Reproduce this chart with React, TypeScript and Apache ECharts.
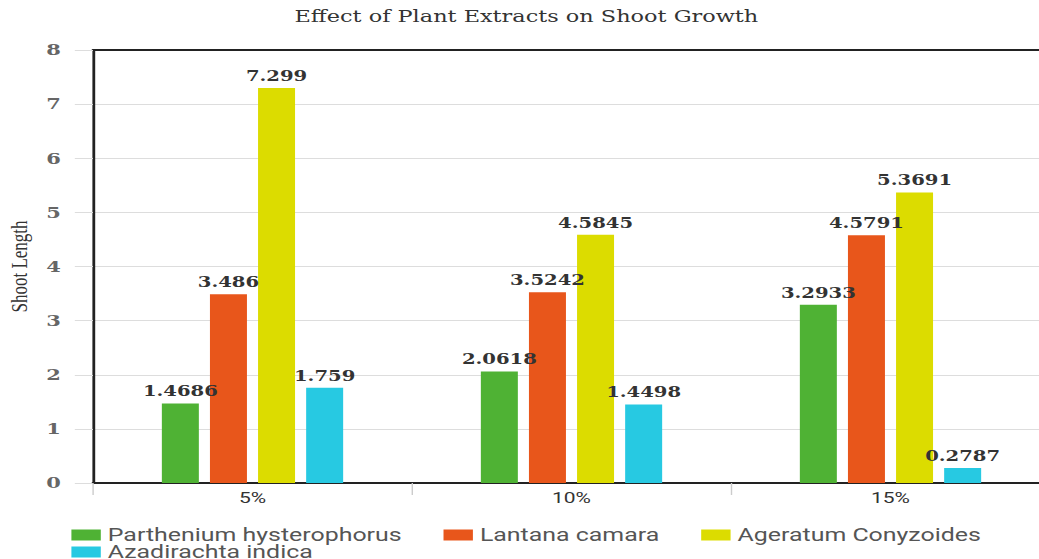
import React, { useEffect, useRef } from "react";
import * as echarts from "echarts";

const categories = ["5%", "10%", "15%"];
const seriesNames = [
  "Parthenium hysterophorus",
  "Lantana camara",
  "Ageratum Conyzoides",
  "Azadirachta indica",
];
const partheniumValues = [1.4686, 2.0618, 3.2933];
const lantanaValues = [3.486, 3.5242, 4.5791];
const ageratumValues = [7.299, 4.5845, 5.3691];
const azadirachtaValues = [1.759, 1.4498, 0.2787];
const yTicks = [0, 1, 2, 3, 4, 5, 6, 7, 8];
const colors = ["#4fb234", "#e8561b", "#dcdc00", "#27c9e2"];

const STRETCH = 1.4;
const W = 1039;
const H = 559;
const IW = 1070 / STRETCH;

export default function App() {
  const ref = useRef<HTMLDivElement>(null);
  useEffect(() => {
    if (!ref.current) return;
    const chart = echarts.init(ref.current, undefined, { renderer: "svg" });
    const values = [partheniumValues, lantanaValues, ageratumValues, azadirachtaValues];
    const labelFont = {
      fontFamily: "DejaVu Serif",
      fontWeight: "bold" as const,
      fontSize: 14,
      color: "#333",
    };
    chart.setOption({
      animation: false,
      backgroundColor: "#fff",
      title: {
        text: "Effect of Plant Extracts on Shoot Growth",
        left: 376,
        textAlign: "center",
        top: 9,
        padding: 0,
        textStyle: {
          fontFamily: "DejaVu Serif",
          fontWeight: "normal",
          fontSize: 16,
          color: "#333",
        },
      },
      legend: [
        {
          data: seriesNames.slice(0, 3),
          left: 51,
          top: 526,
          padding: 0,
          itemWidth: 21,
          itemHeight: 11,
          itemGap: 30,
          icon: "rect",
          textStyle: { fontFamily: "Roboto", fontSize: 17.8, color: "#555", lineHeight: 17 },
        },
        {
          data: seriesNames.slice(3),
          left: 51,
          top: 543,
          padding: 0,
          itemWidth: 21,
          itemHeight: 11,
          icon: "rect",
          textStyle: { fontFamily: "Roboto", fontSize: 17.8, color: "#555", lineHeight: 16 },
        },
      ],
      grid: {
        left: 93 / STRETCH,
        top: 50,
        width: 957 / STRETCH,
        height: 433,
        outerBoundsMode: "none",
        containLabel: false,
      },
      xAxis: [
        {
          type: "category",
          data: categories,
          position: "bottom",
          axisLine: { show: true, lineStyle: { color: "#222", width: 2 } },
          axisTick: { show: true, length: 12, lineStyle: { color: "#ccc" } },
          axisLabel: {
            margin: 7,
            fontFamily: "Roboto",
            fontSize: 15,
            color: "#333",
          },
        },
        {
          type: "category",
          data: categories,
          position: "top",
          axisLine: { show: true, lineStyle: { color: "#222", width: 2 } },
          axisTick: { show: false },
          axisLabel: { show: false },
        },
      ],
      yAxis: {
        type: "value",
        min: yTicks[0],
        max: yTicks[yTicks.length - 1],
        interval: 1,
        name: "Shoot Length",
        nameLocation: "middle",
        nameGap: 44,
        nameTextStyle: {
          fontFamily: "Liberation Serif",
          fontSize: 17,
          color: "#333",
        },
        axisLine: { show: true, lineStyle: { color: "#222", width: 2 } },
        axisTick: { show: true, length: 13, lineStyle: { color: "#ddd" } },
        splitLine: { show: true, lineStyle: { color: "#ddd", width: 1 } },
        axisLabel: {
          margin: 23,
          fontFamily: "DejaVu Serif",
          fontWeight: "bold",
          fontSize: 15,
          color: "#666",
        },
      },
      series: seriesNames.map((name, i) => ({
        name,
        type: "bar",
        xAxisIndex: 0,
        data: values[i],
        barWidth: 37 / STRETCH,
        barGap: "30%",
        itemStyle: { color: colors[i] },
        label: {
          show: true,
          position: "top",
          distance: 5,
          ...labelFont,
        },
      })),
    });
    return () => chart.dispose();
  }, []);

  return (
    <div
      style={{
        position: "fixed",
        left: 0,
        top: 0,
        width: W,
        height: H,
        overflow: "hidden",
        background: "#fff",
      }}
    >
      <div
        ref={ref}
        style={{
          width: IW,
          height: H,
          transform: `scaleX(${STRETCH})`,
          transformOrigin: "0 0",
        }}
      />
    </div>
  );
}
